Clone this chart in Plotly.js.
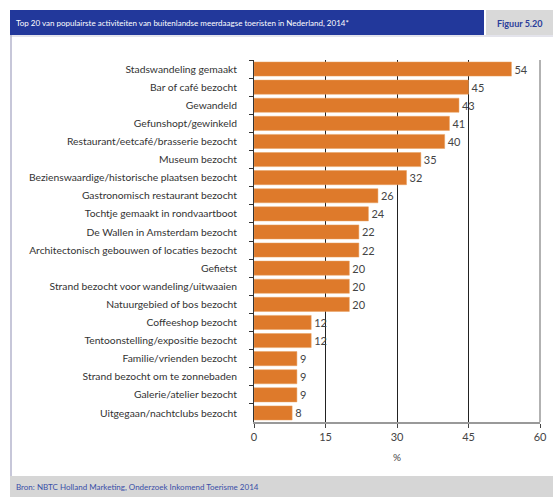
<!DOCTYPE html>
<html>
<head>
<meta charset="utf-8">
<script src="https://cdn.plot.ly/plotly-3.0.1.min.js"></script>
<style>html,body{margin:0;padding:0;background:#fff;}#chart{width:553px;height:497px;}</style>
</head>
<body>
<div id="chart"></div>
<script>
const categories = [
  "Stadswandeling gemaakt",
  "Bar of café bezocht",
  "Gewandeld",
  "Gefunshopt/gewinkeld",
  "Restaurant/eetcafé/brasserie bezocht",
  "Museum bezocht",
  "Bezienswaardige/historische plaatsen bezocht",
  "Gastronomisch restaurant bezocht",
  "Tochtje gemaakt in rondvaartboot",
  "De Wallen in Amsterdam bezocht",
  "Architectonisch gebouwen of locaties bezocht",
  "Gefietst",
  "Strand bezocht voor wandeling/uitwaaien",
  "Natuurgebied of bos bezocht",
  "Coffeeshop bezocht",
  "Tentoonstelling/expositie bezocht",
  "Familie/vrienden bezocht",
  "Strand bezocht om te zonnebaden",
  "Galerie/atelier bezocht",
  "Uitgegaan/nachtclubs bezocht"
];
const values = [54, 45, 43, 41, 40, 35, 32, 26, 24, 22, 22, 20, 20, 20, 12, 12, 9, 9, 9, 8];
const xTicks = [0, 15, 30, 45, 60];

const W = 553, H = 497;
const mL = 254, mR = 13, mT = 60, mB = 75;
const pw = W - mL - mR, ph = H - mT - mB;
const px = x => (x - mL) / pw;
const py = y => 1 - (y - mT) / ph;

const font = "Lato, 'Open Sans', sans-serif";

const trace = {
  type: 'bar',
  orientation: 'h',
  y: categories,
  x: values,
  marker: {color: '#DE7A2B', line: {color: '#E8A060', width: 0.5}},
  text: values.map(String),
  textposition: 'outside',
  cliponaxis: false,
  textfont: {family: font, size: 11, color: '#444'},
  hoverinfo: 'none'
};

const shapes = [
  {type: 'rect', xref: 'paper', yref: 'paper', x0: px(10), x1: px(484), y0: py(10), y1: py(35), fillcolor: '#22389B', line: {width: 0}, layer: 'below'},
  {type: 'rect', xref: 'paper', yref: 'paper', x0: px(486), x1: px(553), y0: py(10), y1: py(35), fillcolor: '#D9D9D9', line: {width: 0}, layer: 'below'},
  {type: 'line', xref: 'paper', yref: 'paper', x0: px(10), x1: px(553), y0: py(36), y1: py(36), line: {color: '#C8C8D8', width: 1}},
  {type: 'line', xref: 'paper', yref: 'paper', x0: px(11), x1: px(11), y0: py(35), y1: py(476), line: {color: '#B4B4CC', width: 1.5}},
  {type: 'rect', xref: 'paper', yref: 'paper', x0: px(10), x1: px(553), y0: py(476), y1: py(497), fillcolor: '#D6D6D6', line: {width: 0}, layer: 'below'},
  {type: 'line', xref: 'paper', yref: 'paper', x0: 1, x1: 1, y0: 0, y1: 1, line: {color: '#999', width: 1.5}}
];

const annotations = [
  {xref: 'paper', yref: 'paper', x: px(14), y: py(23), xanchor: 'left', yanchor: 'middle', showarrow: false,
   text: 'Top 20 van populairste activiteiten van buitenlandse meerdaagse toeristen in Nederland, 2014*',
   font: {family: font, size: 8, color: '#FFFFFF'}},
  {xref: 'paper', yref: 'paper', x: px(519), y: py(23), xanchor: 'center', yanchor: 'middle', showarrow: false,
   text: '<b>Figuur 5.20</b>', font: {family: font, size: 9, color: '#2B3D9A'}},
  {xref: 'paper', yref: 'paper', x: px(14), y: py(487), xanchor: 'left', yanchor: 'middle', showarrow: false,
   text: 'Bron: NBTC Holland Marketing, Onderzoek Inkomend Toerisme 2014',
   font: {family: font, size: 8, color: '#3A4FA8'}}
];

const layout = {
  width: W, height: H,
  margin: {l: mL, r: mR, t: mT, b: mB, pad: 0},
  paper_bgcolor: '#FFFFFF',
  plot_bgcolor: '#FFFFFF',
  showlegend: false,
  bargap: 0.22,
  xaxis: {
    range: [0, 60],
    tickvals: xTicks,
    ticktext: xTicks.map(String),
    showgrid: true,
    gridcolor: '#222',
    gridwidth: 1,
    zeroline: false,
    showline: true,
    linecolor: '#999',
    linewidth: 1.5,
    ticks: 'outside',
    ticklen: 4,
    tickcolor: '#444',
    tickfont: {family: font, size: 11, color: '#444'},
    title: {text: '%', font: {family: font, size: 10, color: '#444'}, standoff: 12},
    fixedrange: true
  },
  yaxis: {
    type: 'category',
    autorange: 'reversed',
    showgrid: false,
    zeroline: false,
    showline: true,
    linecolor: '#333',
    linewidth: 1,
    ticks: 'outside',
    tickson: 'boundaries',
    ticklen: 4,
    tickcolor: '#333',
    ticklabelstandoff: 14,
    tickfont: {family: font, size: 10.3, color: '#333'},
    fixedrange: true
  },
  shapes: shapes,
  annotations: annotations
};

Plotly.newPlot('chart', [trace], layout, {displayModeBar: false, staticPlot: true});
</script>
</body>
</html>
